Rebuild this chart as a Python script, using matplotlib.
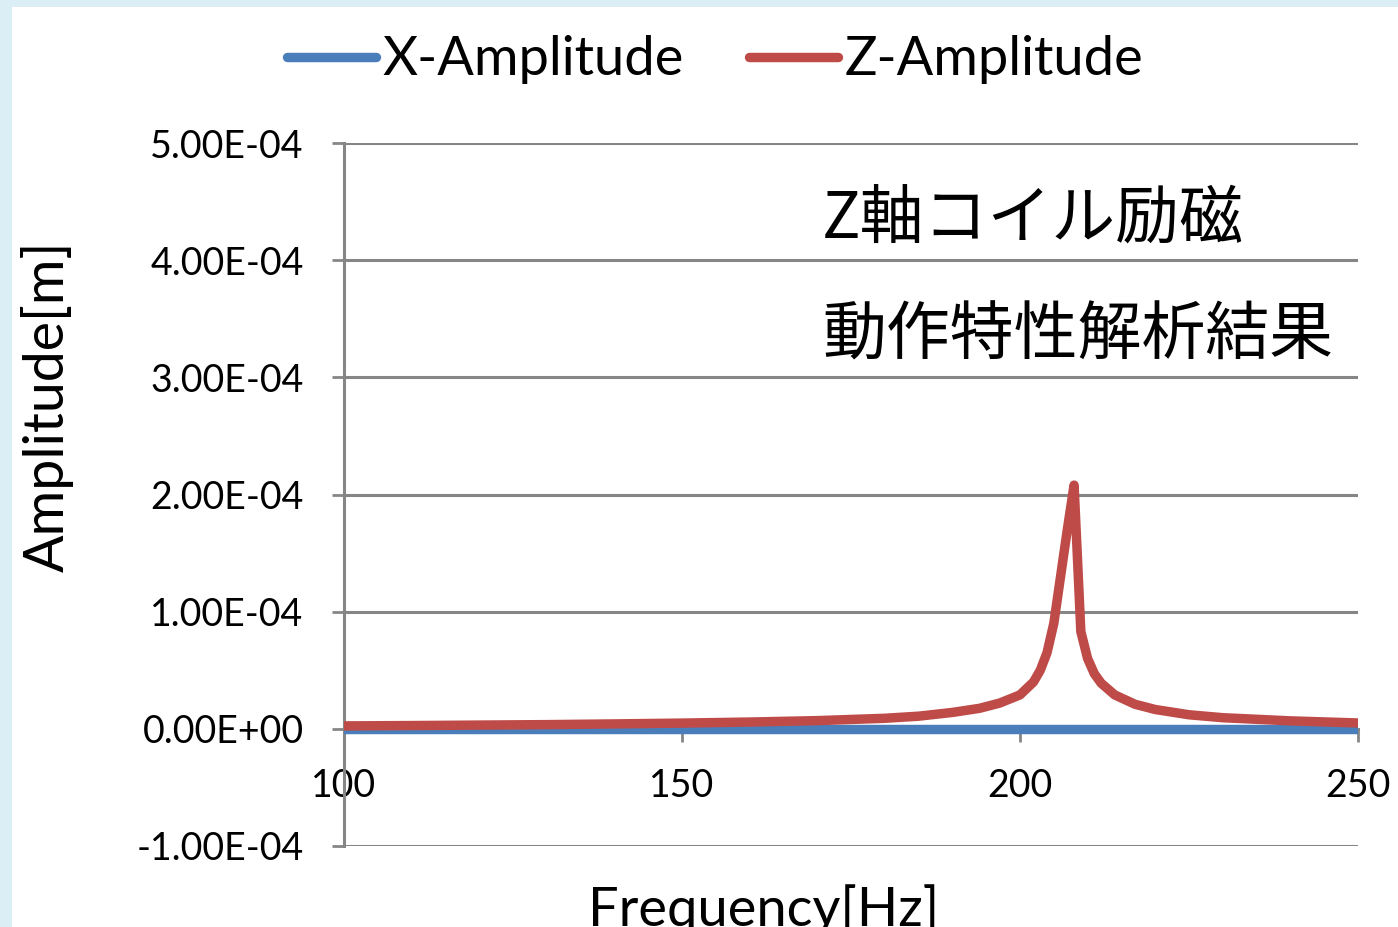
import matplotlib.pyplot as plt
from matplotlib.patches import Rectangle
import numpy as np

# --- DATA ---
FREQ = [100, 110, 120, 130, 140, 150, 160, 170, 180, 185, 190, 194, 197, 200,
        202, 203, 204, 205, 206, 207, 208, 209, 210, 211, 212, 214, 217, 220,
        225, 230, 240, 250]
Z_AMP = [2.5e-6, 2.8e-6, 3.2e-6, 3.6e-6, 4.2e-6, 4.9e-6, 5.8e-6, 7.0e-6, 9.0e-6,
         1.08e-5, 1.4e-5, 1.75e-5, 2.2e-5, 2.9e-5, 4.0e-5, 5.0e-5, 6.5e-5, 9.0e-5,
         1.3e-4, 1.7e-4, 2.08e-4, 8.3e-5, 6.0e-5, 4.7e-5, 3.9e-5, 2.9e-5, 2.1e-5,
         1.65e-5, 1.2e-5, 9.5e-6, 6.8e-6, 5.0e-6]
X_AMP = [1e-7] * len(FREQ)

Y_TICKS = [-1e-4, 0, 1e-4, 2e-4, 3e-4, 4e-4, 5e-4]
Y_TICK_LABELS = ['-1.00E-04', '0.00E+00', '1.00E-04', '2.00E-04',
                 '3.00E-04', '4.00E-04', '5.00E-04']
X_TICKS = [100, 150, 200, 250]

# --- STYLE ---
W, H = 1398, 927
BLUE = '#4A7EBB'
RED = '#BE4B48'
GRAY = '#868686'
plt.rcParams['font.family'] = ['Lato', 'Noto Sans CJK JP', 'DejaVu Sans']

fig = plt.figure(figsize=(W / 100, H / 100), dpi=100)
fig.patch.set_facecolor('#DCEEF5')
fig.patches.append(Rectangle((12 / W, 0), 1, 1 - 7 / H, transform=fig.transFigure,
                             facecolor='white', edgecolor='none', zorder=-5))

ax = fig.add_axes([344 / W, (H - 846) / H, (1358 - 344) / W, (846 - 143) / H])
ax.set_facecolor('none')

ax.plot(FREQ, X_AMP, color=BLUE, lw=6.8, label='X-Amplitude', solid_capstyle='round', zorder=3)
ax.plot(FREQ, Z_AMP, color=RED, lw=6.8, label='Z-Amplitude', solid_capstyle='round',
        solid_joinstyle='round', zorder=4)

ax.set_xlim(100, 250)
ax.set_ylim(-1e-4, 5e-4)
ax.set_yticks(Y_TICKS)
ax.set_yticklabels(Y_TICK_LABELS)
ax.set_xticks(X_TICKS)
ax.yaxis.grid(True, color=GRAY, lw=2.2)
ax.set_axisbelow(True)

for s in ['top', 'right']:
    ax.spines[s].set_visible(False)
ax.spines['left'].set_color(GRAY)
ax.spines['left'].set_linewidth(2.2)
ax.spines['bottom'].set_position(('data', 0))
ax.spines['bottom'].set_color(GRAY)
ax.spines['bottom'].set_linewidth(2.2)

ax.tick_params(axis='y', direction='out', length=9, width=2, color=GRAY,
               labelsize=27, pad=20)
ax.tick_params(axis='x', direction='out', length=9, width=2, color=GRAY,
               labelsize=27, pad=19)

fig.text(47 / W, 1 - 406 / H, 'Amplitude[m]', rotation=90, ha='center', va='center',
         fontsize=40)
fig.text(764 / W, 1 - 884 / H, 'Frequency[Hz]', ha='center', va='top', fontsize=39)

fig.text(822 / W, 1 - 220 / H, 'Z軸コイル励磁', ha='left', va='center', fontsize=46,
         family=['Noto Sans CJK JP', 'DejaVu Sans'])
fig.text(822 / W, 1 - 336 / H, '動作特性解析結果', ha='left', va='center', fontsize=46,
         family=['Noto Sans CJK JP', 'DejaVu Sans'])

fig.legend(loc='center', bbox_to_anchor=(715 / W, 1 - 60 / H), ncol=2, frameon=False,
           fontsize=39, handlelength=1.65, handletextpad=0.12, columnspacing=1.2)

fig.savefig('out.png', dpi=100)
